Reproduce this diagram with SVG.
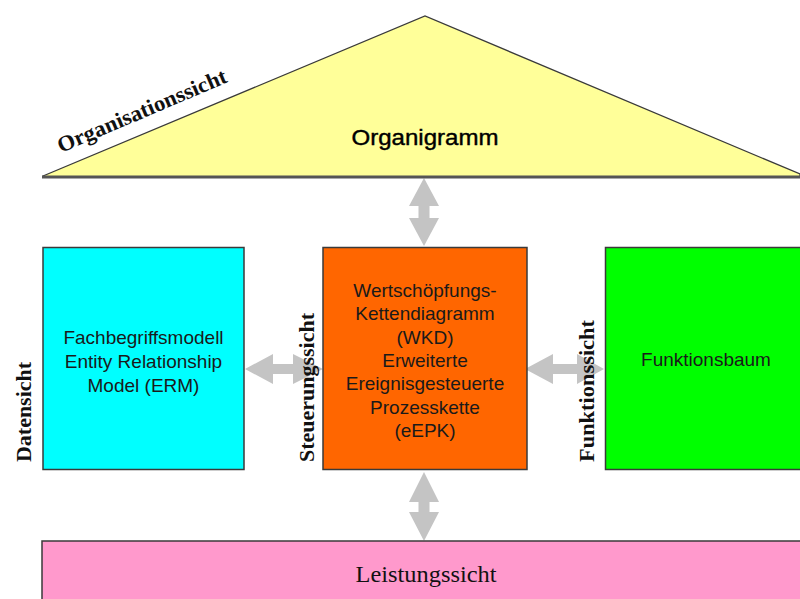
<svg xmlns="http://www.w3.org/2000/svg" width="800" height="599" viewBox="0 0 800 599">
  <style>
    .box { stroke: #3a3a3a; stroke-width: 1.5; }
    .lbl { font-family: "Liberation Sans", Arial, sans-serif; font-size: 19px; fill: #1a1a1a; text-anchor: middle; }
    .view { font-family: "Liberation Serif", "Times New Roman", serif; font-size: 22px; font-weight: bold; fill: #111; }
    .arrow { fill: #c4c4c4; }
  </style>
  <rect width="800" height="599" fill="#ffffff"/>

  <!-- connectors: grey double arrows, drawn first so the view labels sit on top -->
  <g id="connectors">
    <polygon class="arrow" points="424,178 439,206 429.5,206 429.5,218 439,218 424,246 409,218 418.5,218 418.5,206 409,206"/>
    <polygon class="arrow" points="424,472 439,502 429.5,502 429.5,512 439,512 424,541 409,512 418.5,512 418.5,502 409,502"/>
    <polygon class="arrow" points="245,369 273,354 273,364 293,364 293,354 323,369 293,384 293,374 273,374 273,384"/>
    <polygon class="arrow" points="525,369 553,354 553,364 577,364 577,354 604,369 577,384 577,374 553,374 553,384"/>
  </g>

  <!-- Organisationssicht: roof -->
  <g id="organisation">
    <polygon points="43,176 425,16 800,174 800,177 43,177" fill="#ffff99" stroke="#3a3a3a" stroke-width="1.3"/>
    <line x1="42" y1="177" x2="800" y2="177" stroke="#555" stroke-width="3"/>
    <text class="view" transform="translate(61,153) rotate(-23)" textLength="182" lengthAdjust="spacingAndGlyphs">Organisationssicht</text>
    <text x="425" y="145" font-family="Liberation Sans, Arial, sans-serif" font-size="22" fill="#000" stroke="#000" stroke-width="0.4" text-anchor="middle" textLength="147" lengthAdjust="spacingAndGlyphs">Organigramm</text>
  </g>

  <!-- Datensicht -->
  <g id="daten">
    <rect class="box" x="43" y="247.5" width="201" height="222" fill="#00ffff"/>
    <text class="lbl" x="143.5" y="344">Fachbegriffsmodell</text>
    <text class="lbl" x="143.5" y="368">Entity Relationship</text>
    <text class="lbl" x="143.5" y="392">Model (ERM)</text>
    <text class="view" transform="translate(31,462) rotate(-90)" textLength="100" lengthAdjust="spacingAndGlyphs">Datensicht</text>
  </g>

  <!-- Steuerungssicht -->
  <g id="steuerung">
    <rect class="box" x="323" y="247.5" width="204" height="222" fill="#ff6600"/>
    <text class="lbl" x="425" y="297">Wertschöpfungs-</text>
    <text class="lbl" x="425" y="320">Kettendiagramm</text>
    <text class="lbl" x="425" y="344">(WKD)</text>
    <text class="lbl" x="425" y="367">Erweiterte</text>
    <text class="lbl" x="425" y="390">Ereignisgesteuerte</text>
    <text class="lbl" x="425" y="414">Prozesskette</text>
    <text class="lbl" x="425" y="437">(eEPK)</text>
    <text class="view" transform="translate(314,462) rotate(-90)" textLength="149" lengthAdjust="spacingAndGlyphs">Steuerungssicht</text>
  </g>

  <!-- Funktionssicht -->
  <g id="funktion">
    <rect class="box" x="605.5" y="247.5" width="200" height="222" fill="#00ff00"/>
    <text class="lbl" x="706" y="366">Funktionsbaum</text>
    <text class="view" transform="translate(594,462) rotate(-90)" textLength="142" lengthAdjust="spacingAndGlyphs">Funktionssicht</text>
  </g>

  <!-- Leistungssicht -->
  <g id="leistung">
    <rect class="box" x="42" y="541" width="770" height="70" fill="#ff99cc"/>
    <text x="426" y="582" font-family="Liberation Serif, Times New Roman, serif" font-size="23" fill="#111" text-anchor="middle" textLength="141" lengthAdjust="spacingAndGlyphs">Leistungssicht</text>
  </g>
</svg>
